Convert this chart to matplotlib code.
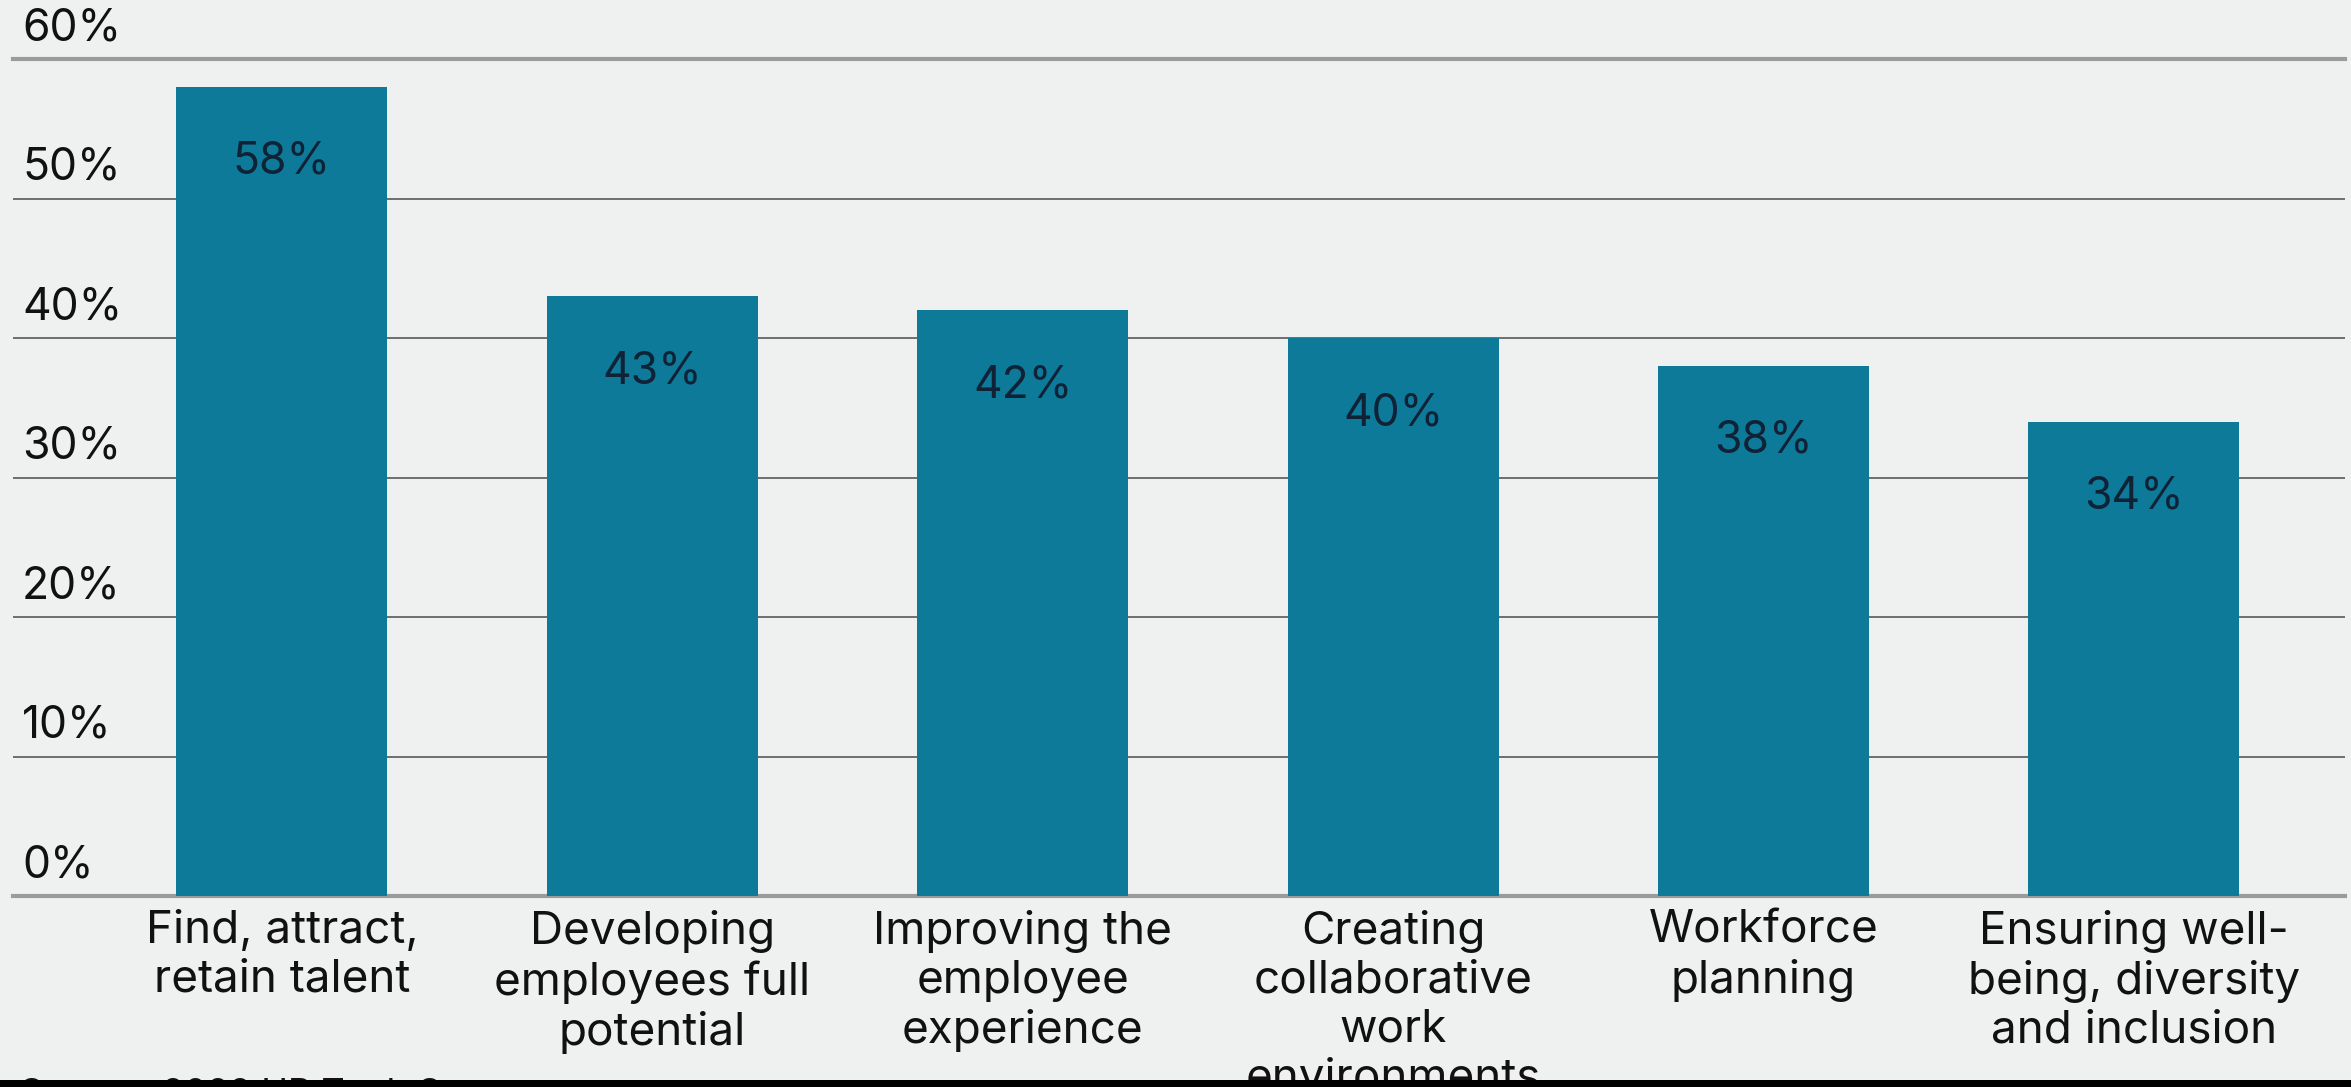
import matplotlib
matplotlib.use("Agg")
import matplotlib.pyplot as plt
from matplotlib.patches import Rectangle
from matplotlib.transforms import blended_transform_factory

categories = [
    "Find, attract,\nretain talent",
    "Developing\nemployees full\npotential",
    "Improving the\nemployee\nexperience",
    "Creating\ncollaborative\nwork\nenvironments",
    "Workforce\nplanning",
    "Ensuring well-\nbeing, diversity\nand inclusion",
]
values = [58, 43, 42, 40, 38, 34]
yticks = [0, 10, 20, 30, 40, 50, 60]
source = "Source: 2022 HR Tech Survey"

bg = "#eff1f0"
bar_color = "#0e7a99"
text_color = "#111111"
label_color = "#0f2236"

plt.rcParams["font.family"] = ["Inter", "DejaVu Sans"]

W, H = 2351, 1087
fig = plt.figure(figsize=(W / 100, H / 100), dpi=100, facecolor=bg)
ax = fig.add_axes([13 / W, (H - 896) / H, 2332 / W, (896 - 59) / H])
ax.set_facecolor(bg)

x = list(range(len(values)))
ax.bar(x, values, width=0.57, color=bar_color, zorder=3)

ax.set_xlim(-0.726, 5.570)
ax.set_ylim(0, 60)

# horizontal gridlines, labels sit above each line on the left
trans = blended_transform_factory(ax.transAxes, ax.transData)
for t in yticks:
    if t in (0, 60):
        ax.axhline(t, color="#9b9b9b", lw=3.0, zorder=2, clip_on=False)
    else:
        ax.axhline(t, color="#6e6e6e", lw=1.4, zorder=2)
    ax.text(9 / 2332, t + 0.7, f"{t}%", transform=trans, ha="left", va="bottom",
            fontsize=32, color=text_color)

for xi, v in zip(x, values):
    ax.annotate(f"{v}%", (xi, v), xytext=(0, -54), textcoords="offset points",
                ha="center", va="center", fontsize=32, color=label_color, zorder=4)

ax.set_xticks(x)
ax.set_xticklabels(categories, fontsize=33, color=text_color, linespacing=1.21)
ax.tick_params(axis="x", length=0, pad=10)
ax.set_yticks([])
for s in ax.spines.values():
    s.set_visible(False)

fig.text(20 / W, (H - 1078) / H, source, ha="left", va="top", fontsize=26, color=text_color)

# black strip along the bottom edge of the screenshot
fig.add_artist(Rectangle((0, 0), 1, 7 / H, transform=fig.transFigure,
                         facecolor="black", edgecolor="none", zorder=10))

fig.savefig("out.png", dpi=100, facecolor=bg)
